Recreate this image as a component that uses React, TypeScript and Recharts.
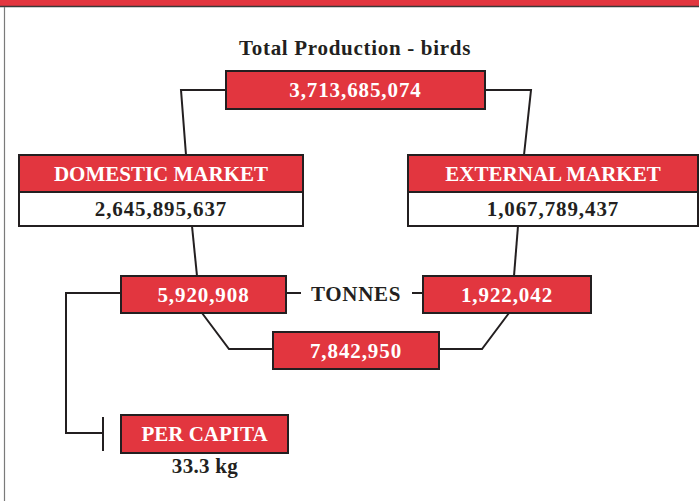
import { ScatterChart, Scatter, XAxis, YAxis, ReferenceArea, ReferenceLine } from 'recharts';

const FONT = '"Liberation Serif", "Times New Roman", serif';
const RED = '#e2363f';
const INK = '#231f20';

// figures as printed on the sheet
const titleText = 'Total Production - birds';
const totalBirds = 3713685074;
const marketNames = ['DOMESTIC MARKET', 'EXTERNAL MARKET'];
const marketBirds = [2645895637, 1067789437];
const unitText = 'TONNES';
const marketTonnes = [5920908, 1922042];
const totalTonnes = 7842950;
const perCapitaText = 'PER CAPITA';
const perCapitaKg = 33.3;

// layout of the diagram (page pixels)
const totalBox = { x1: 226, x2: 485, y1: 71, y2: 109 };
const marketHead = [
  { x1: 19, x2: 303, y1: 155, y2: 192 },
  { x1: 408, x2: 698, y1: 155, y2: 192 },
];
const marketBody = [
  { x1: 19, x2: 303, y1: 192, y2: 226 },
  { x1: 408, x2: 698, y1: 192, y2: 226 },
];
const tonneBox = [
  { x1: 121, x2: 286, y1: 276, y2: 313 },
  { x1: 423, x2: 591, y1: 276, y2: 313 },
];
const tonneTotalBox = { x1: 273, x2: 439, y1: 332, y2: 369 };
const perCapitaBox = { x1: 121, x2: 288, y1: 415, y2: 453 };

const connectors = [
  [{ x: 226, y: 90 }, { x: 181, y: 90 }, { x: 186, y: 155 }],
  [{ x: 485, y: 90 }, { x: 531, y: 90 }, { x: 524, y: 155 }],
  [{ x: 192, y: 226 }, { x: 197, y: 276 }],
  [{ x: 518, y: 226 }, { x: 514, y: 276 }],
  [{ x: 121, y: 293 }, { x: 66, y: 293 }, { x: 66, y: 433 }, { x: 103, y: 433 }],
  [{ x: 103, y: 417 }, { x: 103, y: 451 }],
  [{ x: 286, y: 293 }, { x: 301, y: 293 }],
  [{ x: 412, y: 293 }, { x: 423, y: 293 }],
  [{ x: 202, y: 313 }, { x: 229, y: 349 }, { x: 273, y: 349 }],
  [{ x: 509, y: 313 }, { x: 482, y: 349 }, { x: 439, y: 349 }],
];

const fmt = (n: number) => n.toLocaleString('en-US');

const freeText = [
  { x: 355, y: 48, text: titleText, ls: 0.7 },
  { x: 356, y: 294, text: unitText, ls: 0.7 },
  { x: 205, y: 466, text: `${perCapitaKg} kg`, ls: 0.3 },
];

const boxShape = (text: string, fill: string, color: string, ls = 0) => (p: any) => (
  <g>
    <rect x={p.x} y={p.y} width={p.width} height={p.height} fill={fill} stroke={INK} strokeWidth={2} />
    <text
      x={p.x + p.width / 2}
      y={p.y + p.height / 2 + 7.2}
      textAnchor="middle"
      fill={color}
      fontFamily={FONT}
      fontWeight="bold"
      fontSize={21}
      letterSpacing={ls}
    >
      {text}
    </text>
  </g>
);

const area = (b: { x1: number; x2: number; y1: number; y2: number }, key: string, shape: any) => (
  <ReferenceArea key={key} x1={b.x1} x2={b.x2} y1={b.y1} y2={b.y2} shape={shape} ifOverflow="visible" />
);

export default function App() {
  return (
    <div style={{ position: 'absolute', left: 0, top: 0, width: 699, height: 501, background: '#fff' }}>
      <ScatterChart width={699} height={501} margin={{ top: 0, right: 0, bottom: 0, left: 0 }}>
        <XAxis type="number" dataKey="x" domain={[0, 699]} hide allowDataOverflow />
        <YAxis type="number" dataKey="y" domain={[0, 501]} reversed hide allowDataOverflow />

        <ReferenceArea x1={0} x2={699} y1={0} y2={6} fill={RED} fillOpacity={1} stroke="none" ifOverflow="visible" />
        <ReferenceLine y={6.5} stroke="#3a3a3a" strokeWidth={1.5} ifOverflow="visible" />
        <ReferenceLine segment={[{ x: 4.5, y: 7 }, { x: 4.5, y: 501 }]} stroke="#7a7a7a" strokeWidth={1.2} ifOverflow="visible" />

        {connectors.map((pts, i) => (
          <Scatter
            key={`c${i}`}
            data={pts}
            line={{ stroke: INK, strokeWidth: 2, strokeLinejoin: 'miter' }}
            shape={() => <g />}
            isAnimationActive={false}
          />
        ))}

        {area(totalBox, 'total', boxShape(fmt(totalBirds), RED, '#fff', 0.9))}
        {marketNames.map((name, i) => area(marketHead[i], `mh${i}`, boxShape(name, RED, '#fff')))}
        {marketBirds.map((v, i) => area(marketBody[i], `mb${i}`, boxShape(fmt(v), '#fff', INK, 0.9)))}
        {marketTonnes.map((v, i) => area(tonneBox[i], `t${i}`, boxShape(fmt(v), RED, '#fff', 0.9)))}
        {area(tonneTotalBox, 'tt', boxShape(fmt(totalTonnes), RED, '#fff', 0.9))}
        {area(perCapitaBox, 'pc', boxShape(perCapitaText, RED, '#fff'))}

        <Scatter
          data={freeText}
          isAnimationActive={false}
          shape={(p: any) => (
            <text
              x={p.cx}
              y={p.cy + 7.2}
              textAnchor="middle"
              fill={INK}
              fontFamily={FONT}
              fontWeight="bold"
              fontSize={21}
              letterSpacing={p.payload.ls}
            >
              {p.payload.text}
            </text>
          )}
        />
      </ScatterChart>
    </div>
  );
}
